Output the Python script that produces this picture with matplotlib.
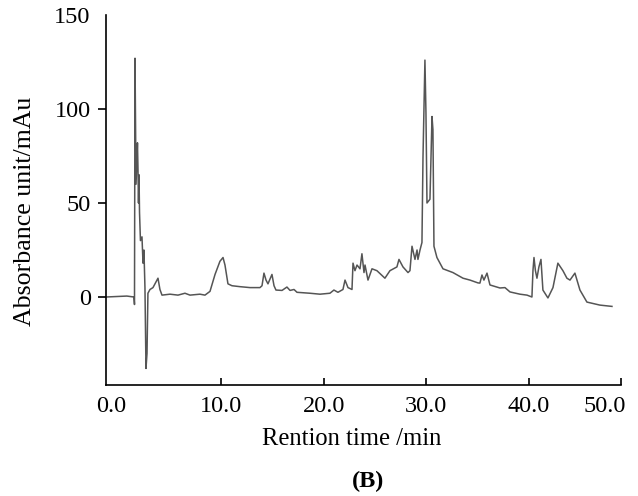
import matplotlib
matplotlib.use('Agg')
import matplotlib.pyplot as plt

plt.rcParams['font.family'] = ['Liberation Serif', 'DejaVu Serif']

# chromatogram: retention time (min) and absorbance (mAu)
time_min = [-1.21, 0.16, 0.82, 1.52, 1.57, 1.62, 1.72, 1.86, 1.91, 1.96, 2.01, 2.06,
            2.15, 2.30, 2.40, 2.49, 2.59, 2.69, 2.79, 2.88, 3.08, 3.37, 3.66, 3.86,
            4.05, 4.25, 5.03, 5.81, 6.49, 6.98, 7.95, 8.44, 8.93, 9.42, 9.90, 10.20,
            10.39, 10.68, 11.07, 11.85, 12.83, 13.80, 14.0, 14.19, 14.39, 14.58, 14.97,
            15.17, 15.36, 15.95, 16.43, 16.73, 17.12, 17.41, 18.67, 19.65, 20.62,
            21.01, 21.40, 21.89, 22.09, 22.38, 22.77, 22.87, 23.06, 23.26, 23.55, 23.74,
            23.94, 24.04, 24.33, 24.72, 25.20, 25.59, 25.98, 26.47, 27.15, 27.35, 27.74,
            28.23, 28.42, 28.62, 28.91, 29.11, 29.20, 29.40, 29.59, 29.69, 29.88, 29.98,
            30.08, 30.37, 30.57, 30.66, 30.76, 31.05, 31.64, 32.61, 33.59, 34.27,
            35.05, 35.24, 35.44, 35.63, 35.93, 36.22, 37.19, 37.68, 38.17, 39.14,
            39.83, 40.31, 40.41, 40.51, 40.65, 40.80, 40.99, 41.19, 41.38, 41.87,
            42.36, 42.84, 43.33, 43.72, 44.02, 44.50, 44.99, 45.67, 46.93, 48.11]
absorbance = [0, 0.3, 0.5, 0, -4, 127, 60, 82, 68, 50, 65, 45,
              30, 32, 18, 25, 5, -38, -30, 2, 4, 5, 8, 10,
              4, 1, 1.5, 1, 2, 1, 1.5, 1, 3, 12, 19, 21,
              17, 7, 6, 5.5, 5, 5, 6, 12.7, 9, 7, 12,
              6, 3.7, 3.5, 5.3, 3.5, 4, 2.5, 2, 1.5, 2,
              3.7, 2.5, 4, 9, 5, 4, 18, 14, 17, 15, 23,
              13, 17, 9, 15, 14, 12, 10, 14, 16, 20, 16,
              13, 14, 27, 20, 25, 20, 25, 29, 74, 126, 98,
              50, 52, 96, 89, 27, 21, 15, 13, 10, 9,
              7.5, 7.4, 11.7, 9, 12.7, 6.4, 4.8, 5, 2.7, 1.5,
              1, 0, 14, 21, 14, 10, 16, 20, 3.7, -0.5,
              5, 18, 14, 10, 9, 12.7, 3.7, -2.7, -4.3, -5]

# tick labels sit a little off their marks in the original figure
x_label_pos = [-0.72, 10, 20, 30, 40, 47.4]
x_labels = ['0.0', '10.0', '20.0', '30.0', '40.0', '50.0']
x_axis_end = 49.03
y_ticks = [0, 50, 100, 150]

fig = plt.figure(figsize=(6.38, 4.96), dpi=100)
ax = fig.add_axes([0.1661, 0.2238, 0.8135, 0.746])

ax.plot(time_min, absorbance, color='#555555', linewidth=1.1)

ax.set_xlim(-1.21, 49.38)
ax.set_ylim(-46.8, 150)

ax.spines['top'].set_visible(False)
ax.spines['right'].set_visible(False)
ax.spines['bottom'].set_bounds(-1.21, x_axis_end)
ax.spines['left'].set_linewidth(1.2)
ax.spines['bottom'].set_linewidth(1.2)

ax.set_xticks(x_label_pos)
ax.set_xticklabels(x_labels)
ax.set_xticks([x_axis_end], minor=True)
ax.set_yticks(y_ticks)
ax.set_yticks([150], minor=True)
ax.tick_params(axis='x', which='both', direction='in', length=5, width=1.2, labelsize=17.5, pad=8)
ax.tick_params(axis='y', which='major', direction='out', length=6, width=1.2, labelsize=17.5, pad=5)
ax.tick_params(axis='y', which='minor', direction='in', length=5, width=1.2)
xt = ax.xaxis.get_major_ticks()
xt[0].tick1line.set_visible(False)
xt[-1].tick1line.set_visible(False)
ax.yaxis.get_major_ticks()[-1].tick1line.set_visible(False)

ax.set_xlabel('Rention time /min', fontsize=17.7, va='center')
ax.xaxis.set_label_coords(0.474, -0.146)
ax.set_ylabel('Absorbance unit/mAu', fontsize=18.6, va='center')
ax.yaxis.set_label_coords(-0.156, 0.47)
fig.text(0.577, 0.03, '(B)', fontsize=17.5, fontweight='bold', ha='center', va='center')

fig.savefig('out.png', dpi=100)
